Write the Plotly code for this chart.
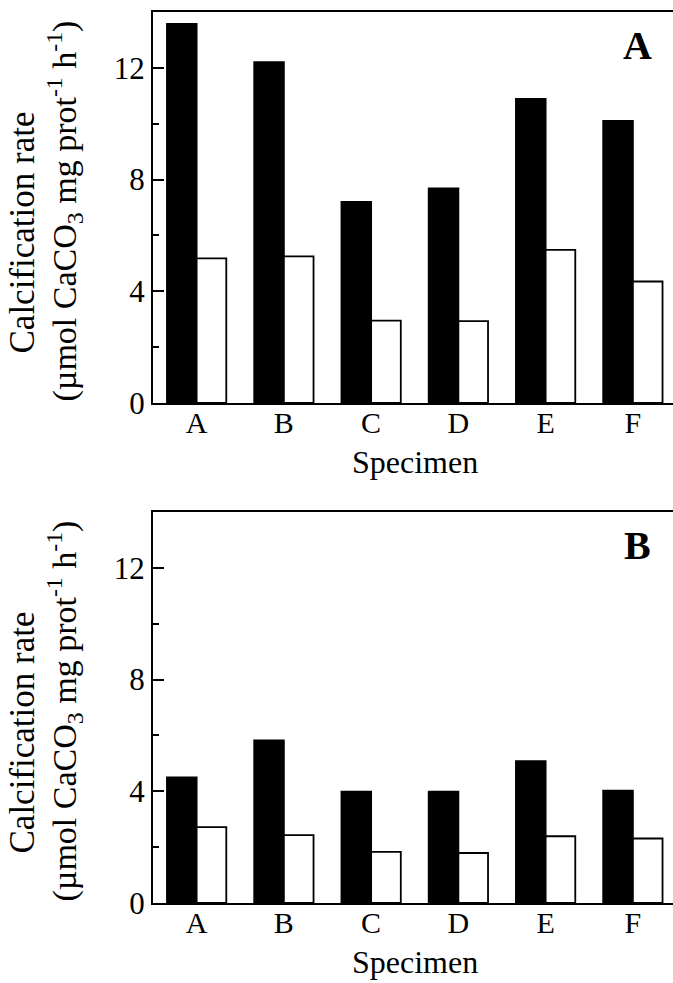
import plotly.graph_objects as go

specimens = ["A", "B", "C", "D", "E", "F"]
panel_a_black = [13.57, 12.20, 7.20, 7.68, 10.89, 10.10]
panel_a_white = [5.18, 5.25, 2.95, 2.93, 5.48, 4.35]
panel_b_black = [4.50, 5.82, 3.99, 3.99, 5.08, 4.02]
panel_b_white = [2.72, 2.43, 1.83, 1.79, 2.39, 2.31]
y_tick_vals = [0, 4, 8, 12]
y_tick_text = ["0", "4", "8", "12"]

W, H = 673, 983
ML, MR, MT, MB = 153, 0, 12, 80
plot_w = W - ML - MR
plot_h = H - MT - MB
bottom_px = H - MB


def fy(ypix):
    return (bottom_px - ypix) / plot_h


def fx(xpix):
    return (xpix - ML) / plot_w


FONT = "Liberation Serif, Times New Roman, serif"

fig = go.Figure()
for vals, color, ax in [
    (panel_a_black, "black", "y"),
    (panel_a_white, "white", "y"),
    (panel_b_black, "black", "y2"),
    (panel_b_white, "white", "y2"),
]:
    fig.add_trace(go.Bar(
        x=specimens, y=vals,
        xaxis="x" if ax == "y" else "x2", yaxis=ax,
        marker=dict(color=color, line=dict(color="black", width=1.8)),
        showlegend=False,
    ))

common_x = dict(
    type="category", range=[-0.5, 5.46], showline=True, linecolor="black",
    linewidth=2, mirror=True, ticks="", ticklen=0, showgrid=False, zeroline=False,
    tickfont=dict(family=FONT, size=30, color="black"), ticklabelstandoff=-8,
)
common_y = dict(
    range=[0, 14], showline=True, linecolor="black", linewidth=2,
    mirror=False, ticks="inside", ticklen=11, tickwidth=1.5, tickcolor="black",
    tickvals=y_tick_vals, ticktext=y_tick_text, showgrid=False, zeroline=False,
    tickfont=dict(family=FONT, size=31, color="black"), ticklabelstandoff=0,
    minor=dict(dtick=2, tick0=0, ticks="inside", ticklen=6, tickwidth=1.5,
               tickcolor="black", showgrid=False),
)

top_a, bot_a = fy(12), fy(403)
top_b, bot_b = fy(512), fy(903)

fig.update_layout(
    width=W, height=H,
    margin=dict(l=ML, r=MR, t=MT, b=MB),
    paper_bgcolor="white", plot_bgcolor="white",
    barmode="group", bargap=0.32, bargroupgap=0,
    font=dict(family=FONT, color="black"),
    xaxis=dict(domain=[0, 1], anchor="y", **common_x),
    yaxis=dict(domain=[bot_a, top_a], anchor="x", **common_y),
    xaxis2=dict(domain=[0, 1], anchor="y2", **common_x),
    yaxis2=dict(domain=[bot_b, top_b], anchor="x2", **common_y),
)

ann = []
for (ytop, ybot, label, spec_y, lab_y) in [
    (12, 403, "A", 462, 45),
    (512, 903, "B", 962, 545),
]:
    ymid = (ytop + ybot) / 2
    ann.append(dict(
        text="Calcification rate", textangle=-90,
        xref="paper", yref="paper", x=fx(22), y=fy(ymid + 25),
        xanchor="center", yanchor="middle", showarrow=False,
        font=dict(family=FONT, size=35, color="black"),
    ))
    ann.append(dict(
        text="(µmol CaCO<sub>3</sub> mg prot<sup>-1</sup> h<sup>-1</sup>)",
        textangle=-90,
        xref="paper", yref="paper", x=fx(64), y=fy(ymid + 4),
        xanchor="center", yanchor="middle", showarrow=False,
        font=dict(family=FONT, size=34, color="black"),
    ))
    ann.append(dict(
        text="Specimen", xref="paper", yref="paper",
        x=fx(415), y=fy(spec_y), xanchor="center", yanchor="middle",
        showarrow=False, font=dict(family=FONT, size=32, color="black"),
    ))
    ann.append(dict(
        text="<b>%s</b>" % label, xref="paper", yref="paper",
        x=fx(637), y=fy(lab_y), xanchor="center", yanchor="middle",
        showarrow=False, font=dict(family=FONT, size=40, color="black"),
    ))
fig.update_layout(annotations=ann)

fig.write_html(
    "out.html",
    config={"displayModeBar": False},
    post_script="document.body.style.margin='0';document.body.style.overflow='hidden';",
)
